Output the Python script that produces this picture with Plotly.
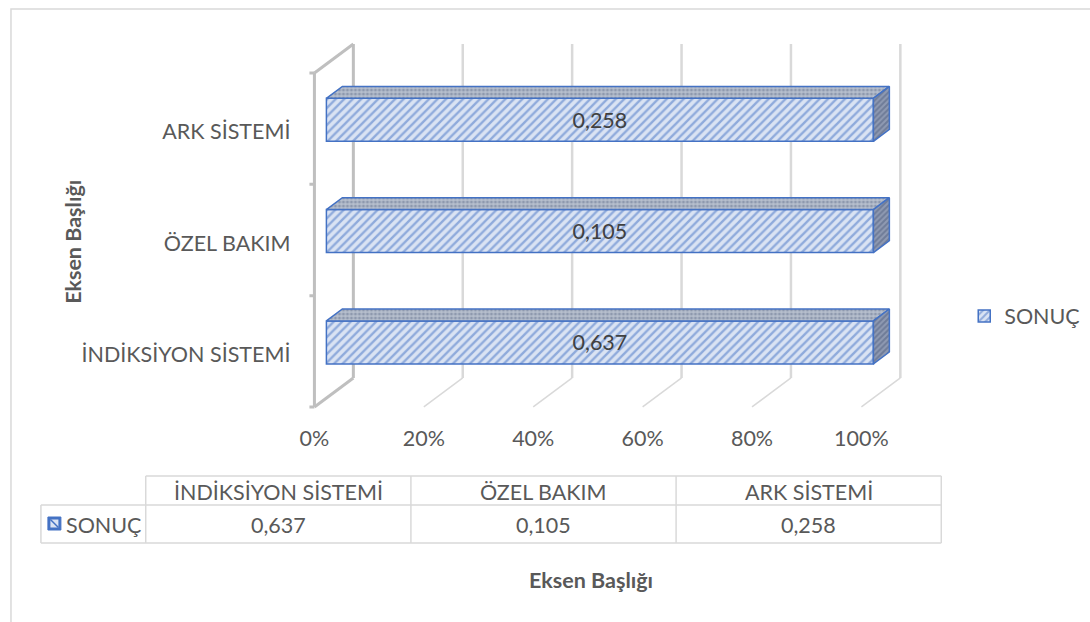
import plotly.graph_objects as go

# ---------------- data ----------------
categories = ["İNDİKSİYON SİSTEMİ", "ÖZEL BAKIM", "ARK SİSTEMİ"]
series_name = "SONUÇ"
values = [0.637, 0.105, 0.258]
x_ticks = [0, 20, 40, 60, 80, 100]
x_tick_labels = ["0%", "20%", "40%", "60%", "80%", "100%"]
axis_title = "Eksen Başlığı"

# 100% stacked: share of each category total (single series)
totals = list(values)
shares = [100.0 * v / t for v, t in zip(values, totals)]
labels = [f"{v:.3f}".replace(".", ",") for v in values]

# ---------------- geometry / style ----------------
W, H = 1090, 622
FONT = "Lato"
FS = 21.5
TXT = "#595959"
PLOT_L, PLOT_R, PLOT_T, PLOT_B = 300, 910, 40, 415
X0_PX, PX_PER_PCT = 313, 5.48
Y0_PX, PX_PER_CAT = 351.3, 111.3
DX = 39 / PX_PER_PCT        # depth offset in x data units
DY = 29 / PX_PER_CAT        # depth offset in y data units
F_D, B_D = 12 / 39, 12 / 39 + 0.41  # bar front/back depth fractions
BW = 43 / PX_PER_CAT


def px(x):
    return x / W


def py(y):
    return 1 - y / H


xrange = [(PLOT_L - X0_PX) / PX_PER_PCT, (PLOT_R - X0_PX) / PX_PER_PCT]
yrange = [(Y0_PX - PLOT_B) / PX_PER_CAT, (Y0_PX - PLOT_T) / PX_PER_CAT]
ncat = len(categories)

fig = go.Figure()

# front faces of the bars
fig.add_trace(go.Bar(
    y=[i + F_D * DY for i in range(ncat)],
    x=shares,
    base=F_D * DX,
    orientation="h",
    width=BW,
    name=series_name,
    marker=dict(color="#DAE3F3",
                pattern=dict(shape="/", fgcolor="#4472C4", bgcolor="#DAE3F3",
                             size=6, solidity=0.4),
                line=dict(color="#4472C4", width=1.5)),
    text=labels, textposition="inside", insidetextanchor="middle",
    textangle=0,
    textfont=dict(family=FONT, size=FS, color="#404040"),
    hoverinfo="skip",
))

# top and end faces (3D)
dd = B_D - F_D
for i, s in enumerate(shares):
    x0 = F_D * DX
    x1 = x0 + s
    yt = i + F_D * DY + BW / 2
    yb = yt - BW
    fig.add_trace(go.Scatter(
        x=[x0, x1, x1 + dd * DX, x0 + dd * DX, x0],
        y=[yt, yt, yt + dd * DY, yt + dd * DY, yt],
        mode="lines", fill="toself", fillcolor="#A3ACBE",
        fillpattern=dict(shape=".", fgcolor="#66748F", bgcolor="#B7BFCD",
                         size=4, solidity=0.45),
        line=dict(color="#4472C4", width=1.5), showlegend=False,
        hoverinfo="skip"))
    fig.add_trace(go.Scatter(
        x=[x1, x1 + dd * DX, x1 + dd * DX, x1, x1],
        y=[yt, yt + dd * DY, yb + dd * DY, yb, yt],
        mode="lines", fill="toself", fillcolor="#7F8BA5",
        fillpattern=dict(shape="/", fgcolor="#4F5E7E", bgcolor="#8F9AB2",
                         size=4, solidity=0.5),
        line=dict(color="#4472C4", width=1.5), showlegend=False,
        hoverinfo="skip"))

shapes = []
# back wall gridlines and floor lines
ylo, yhi = -0.5, ncat - 0.5
for t in x_ticks:
    if t == 0:
        col, wb, wf = "#BFBFBF", 3, 3
    else:
        col, wb, wf = "#D9D9D9", 2.5, 1.5
    shapes.append(dict(type="line", xref="x", yref="y", layer="below",
                       x0=t + DX, y0=ylo + DY, x1=t + DX, y1=yhi + DY,
                       line=dict(color=col, width=wb)))
    shapes.append(dict(type="line", xref="x", yref="y", layer="below",
                       x0=t + DX, y0=ylo + DY, x1=t, y1=ylo,
                       line=dict(color=col, width=wf)))
# left wall front edge and top edge
shapes.append(dict(type="line", xref="x", yref="y", layer="below",
                   x0=0, y0=ylo, x1=0, y1=yhi,
                   line=dict(color="#BFBFBF", width=3)))
shapes.append(dict(type="line", xref="x", yref="y", layer="below",
                   x0=0, y0=yhi, x1=DX, y1=yhi + DY,
                   line=dict(color="#BFBFBF", width=3)))
# category tick marks
for k in range(ncat + 1):
    shapes.append(dict(type="line", xref="x", yref="y", layer="below",
                       x0=0, y0=k - 0.5, x1=-5 / PX_PER_PCT, y1=k - 0.5,
                       line=dict(color="#BFBFBF", width=3)))

# outer chart border
shapes.append(dict(type="rect", xref="paper", yref="paper",
                   x0=px(9), y0=py(9), x1=px(W + 10), y1=py(H + 10),
                   line=dict(color="#D9D9D9", width=1.5)))

# data table
T_L, T_C0, T_R = 39, 144, 941
R0, R1, R2 = 476, 505, 543
GC = "#D9D9D9"
col_w = (T_R - T_C0) / ncat


def hline(x0, x1, y):
    return dict(type="line", xref="paper", yref="paper", x0=px(x0), x1=px(x1),
                y0=py(y), y1=py(y), line=dict(color=GC, width=1.5))


def vline(x, y0, y1):
    return dict(type="line", xref="paper", yref="paper", x0=px(x), x1=px(x),
                y0=py(y0), y1=py(y1), line=dict(color=GC, width=1.5))


shapes.append(hline(T_C0, T_R, R0))
shapes.append(hline(T_L, T_R, R1))
shapes.append(hline(T_L, T_R, R2))
shapes.append(vline(T_L, R1, R2))
for j in range(ncat + 1):
    shapes.append(vline(T_C0 + j * col_w, R0, R2))
# legend key in table
shapes.append(dict(type="rect", xref="paper", yref="paper",
                   x0=px(46), x1=px(59), y0=py(517), y1=py(530),
                   fillcolor="#4472C4", line=dict(color="#4472C4", width=1)))
shapes.append(dict(type="rect", xref="paper", yref="paper",
                   x0=px(48.5), x1=px(56.5), y0=py(519.5), y1=py(527.5),
                   fillcolor="#DAE3F3", line=dict(width=0)))
shapes.append(dict(type="line", xref="paper", yref="paper",
                   x0=px(48.5), x1=px(56.5), y0=py(519.5), y1=py(527.5),
                   line=dict(color="#4472C4", width=1.5)))

annotations = []


def ann(x, y, text, **kw):
    d = dict(x=px(x), y=py(y), xref="paper", yref="paper", text=text,
             showarrow=False, xanchor="center", yanchor="middle",
             font=dict(family=FONT, size=FS, color=TXT))
    d.update(kw)
    annotations.append(d)


for j, (c, lab) in enumerate(zip(categories, labels)):
    cx = T_C0 + (j + 0.5) * col_w
    ann(cx, (R0 + R1) / 2 + 1, c)
    ann(cx, (R1 + R2) / 2 + 1, lab)
ann(62, (R1 + R2) / 2 + 1, series_name, xanchor="left")
# axis titles
ann(590, 580, "<b>" + axis_title + "</b>")
ann(71, 242, "<b>" + axis_title + "</b>", textangle=-90)

fig.update_layout(
    width=W, height=H,
    margin=dict(l=0, r=0, t=0, b=0),
    paper_bgcolor="white", plot_bgcolor="white",
    font=dict(family=FONT, size=FS, color=TXT),
    showlegend=True,
    legend=dict(x=px(964), y=py(316), xanchor="left", yanchor="middle",
                font=dict(family=FONT, size=FS, color=TXT),
                bgcolor="rgba(0,0,0,0)", itemwidth=30),
    xaxis=dict(domain=[px(PLOT_L), px(PLOT_R)], range=xrange,
               tickvals=x_ticks, ticktext=x_tick_labels,
               showgrid=False, zeroline=False, showline=False, ticks="",
               ticklabelstandoff=8,
               tickfont=dict(family=FONT, size=FS, color=TXT),
               fixedrange=True),
    yaxis=dict(domain=[py(PLOT_B), py(PLOT_T)], range=yrange,
               tickvals=[i - 0.027 for i in range(ncat)], ticktext=categories,
               showgrid=False, zeroline=False, showline=False, ticks="",
               ticklabelstandoff=10,
               tickfont=dict(family=FONT, size=FS, color=TXT),
               fixedrange=True),
    shapes=shapes,
    annotations=annotations,
)

fig.write_html("out.html")
